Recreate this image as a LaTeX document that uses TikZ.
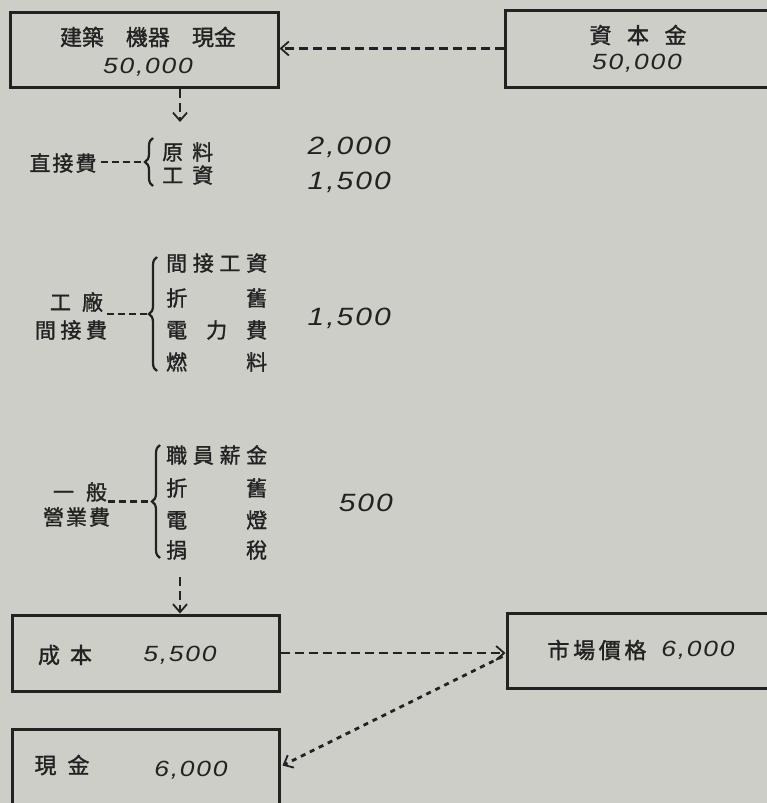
\documentclass[tikz,border=0pt]{standalone}
\usepackage{fontspec}
\newfontfamily\cjk[FakeBold=1.4]{Noto Sans CJK TC}
\newfontfamily\numfont[FakeStretch=1.2,LetterSpace=8]{Liberation Sans}
\usetikzlibrary{arrows.meta,decorations.pathreplacing}
\definecolor{paper}{RGB}{206,206,200}
\definecolor{ink}{RGB}{34,34,34}
\tikzset{
  boxnode/.style={draw=ink, line width=3pt, inner sep=0pt},
  cj/.style={font={\cjk\fontsize{22}{26}\selectfont}, text=ink, inner sep=0pt},
  cjs/.style={font={\cjk\fontsize{21}{24}\selectfont}, text=ink, inner sep=0pt},
  item/.style={cjs, anchor=west},
  nm/.style={font={\numfont\itshape\fontsize{22}{26}\selectfont}, text=ink, inner sep=0pt},
  bignm/.style={font={\numfont\itshape\fontsize{25}{28}\selectfont}, text=ink, inner sep=0pt, anchor=east},
  flow/.style={draw=ink, line width=2.2pt, dash pattern=on 9pt off 5pt,
    -{Straight Barb[length=8pt,width=14pt,line width=1.8pt]}},
  dotflow/.style={draw=ink, line width=2.8pt, dash pattern=on 5pt off 5pt,
    -{Straight Barb[length=8pt,width=14pt,line width=1.8pt]}},
  lead/.style={draw=ink, line width=2.2pt, dash pattern=on 7pt off 4pt},
  bracestyle/.style={draw=ink, line width=2.2pt, decorate, decoration={brace, amplitude=8pt}}
}
\begin{document}
\begin{tikzpicture}[x=1pt,y=-1pt]
\useasboundingbox (0,0) rectangle (767,803);
\clip (0,0) rectangle (767,803);
\fill[paper] (0,0) rectangle (767,803);

% boxes
\node[boxnode, minimum width=268pt, minimum height=75pt] (bldg) at (144,49.5) {};
\node[boxnode, minimum width=270pt, minimum height=77pt] (cap) at (640,48.5) {};
\node[boxnode, minimum width=267pt, minimum height=76pt] (cost) at (145.5,653) {};
\node[boxnode, minimum width=268pt, minimum height=75pt] (mkt) at (641,650.5) {};
\node[boxnode, minimum width=267pt, minimum height=77pt] (cash) at (145.5,767.5) {};

% box texts
\node[cj] (bldgT) at (148,37) {建築\hspace{22pt}機器\hspace{22pt}現金};
\node[nm] (bldgN) at (148,67) {50,000};
\node[cj] (capT) at (638,35) {\makebox[97pt][s]{資\hfill 本\hfill 金}};
\node[nm] (capN) at (637,63) {50,000};
\node[cj] (costT) at (65,655) {\makebox[54pt][s]{成\hfill 本}};
\node[nm] (costN) at (180,655) {5,500};
\node[cj] (mktT) at (597,650) {\makebox[99pt][s]{市\hfill 場\hfill 價\hfill 格}};
\node[nm] (mktN) at (698,650) {6,000};
\node[cj] (cashT) at (62,765) {\makebox[55pt][s]{現\hfill 金}};
\node[nm] (cashN) at (191,770) {6,000};

% group 1: direct costs
\node[cjs] (zj) at (63,163) {\makebox[67pt][s]{直\hfill 接\hfill 費}};
\draw[bracestyle] (153,186) -- (153,138);
\coordinate (b1tip) at (145,162);
\draw[lead] ([xshift=4pt]zj.east |- b1tip) -- (b1tip);
\node[item] (i11) at (162,152) {\makebox[51pt][s]{原\hfill 料}};
\node[item] (i12) at (162,175) {\makebox[51pt][s]{工\hfill 資}};
\node[bignm] (n1) at (391,147) {2,000};
\node[bignm] (n2) at (391,182) {1,500};

% group 2: factory overhead
\node[cjs] (gc1) at (76.5,302) {\makebox[53pt][s]{工\hfill 廠}};
\node[cjs] (gc2) at (71,330) {\makebox[72pt][s]{間\hfill 接\hfill 費}};
\draw[bracestyle] (157,371) -- (157,257);
\coordinate (b2tip) at (149,314);
\draw[lead] (107,314) -- (b2tip);
\node[item] (i21) at (166,263) {\makebox[101pt][s]{間\hfill 接\hfill 工\hfill 資}};
\node[item] (i22) at (166,298) {\makebox[101pt][s]{折\hfill 舊}};
\node[item] (i23) at (166,330) {\makebox[101pt][s]{電\hfill 力\hfill 費}};
\node[item] (i24) at (166,362) {\makebox[101pt][s]{燃\hfill 料}};
\node[bignm] (n3) at (391,318) {1,500};

% group 3: general expenses
\node[cjs] (gg1) at (80,492) {\makebox[54pt][s]{一\hfill 般}};
\node[cjs] (gg2) at (76.5,517) {\makebox[67pt][s]{營\hfill 業\hfill 費}};
\draw[bracestyle] (160,558) -- (160,445);
\coordinate (b3tip) at (152,501.5);
\draw[lead] (108,501.5) -- (b3tip);
\node[item] (i31) at (166,455) {\makebox[101pt][s]{職\hfill 員\hfill 薪\hfill 金}};
\node[item] (i32) at (166,488) {\makebox[101pt][s]{折\hfill 舊}};
\node[item] (i33) at (166,520) {\makebox[101pt][s]{電\hfill 燈}};
\node[item] (i34) at (166,550) {\makebox[101pt][s]{捐\hfill 稅}};
\node[bignm] (n4) at (393,503) {500};

% arrows
\coordinate (d1) at (180,122);
\draw[flow] (d1 |- bldg.south) -- (d1);
\coordinate (d2) at (180,577);
\draw[flow] (d2) -- (d2 |- cost.north);
\draw[flow] (cap.west) -- (cap.west -| bldg.east);
\draw[flow] (cost.east) -- (cost.east -| mkt.west);
\draw[dotflow] ([shift={(-3pt,-6pt)}]mkt.west) -- ([shift={(2pt,2pt)}]cash.east);
\end{tikzpicture}
\end{document}
